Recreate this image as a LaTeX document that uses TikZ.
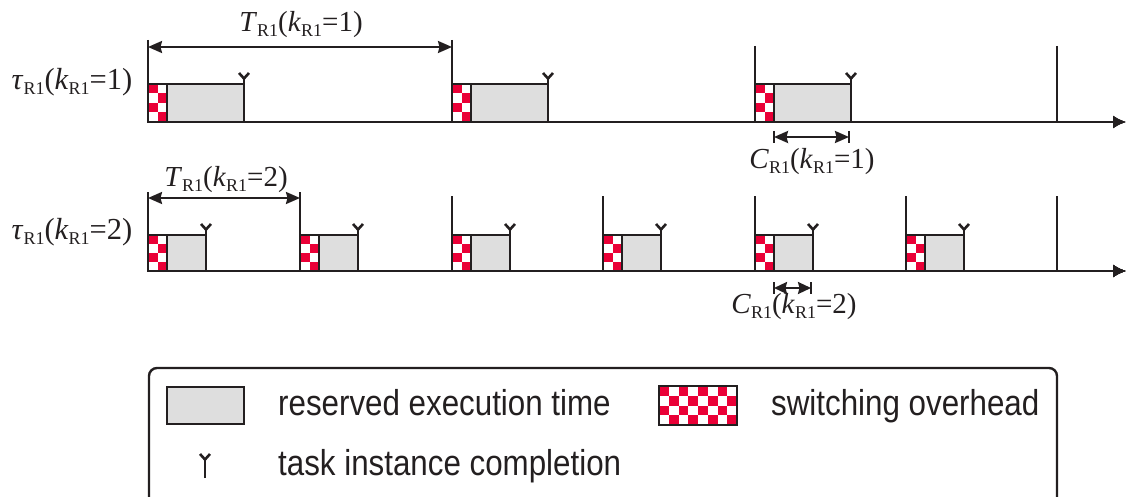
\documentclass[tikz,border=0pt]{standalone}
\usepackage{fontspec}
\setmainfont{Liberation Serif}
\newfontfamily\legendfont[FakeStretch=0.87]{Liberation Sans}
\usetikzlibrary{arrows.meta}

\definecolor{ink}{RGB}{35,31,32}
\definecolor{ovred}{RGB}{234,0,55}
\definecolor{resgray}{RGB}{222,222,222}

% subscript "R1" and label sizes
\newcommand\rsub{\raisebox{-5pt}{\fontsize{18}{18}\selectfont R1}}
\newcommand\lblsize{\fontsize{29}{30}\selectfont}
\newcommand\rowsize{\fontsize{30.5}{31}\selectfont}

% checkerboard: x, ytop, width, height, columns, rows
\newcommand\checker[6]{%
  \fill[white] (#1,#2) rectangle ({#1+#3},{#2+#4});
  \foreach \r in {1,...,#6}{
    \foreach \c in {1,...,#5}{
      \pgfmathtruncatemacro\odd{mod(\r+\c,2)}
      \ifnum\odd=0
        \fill[ovred] ({#1+(\c-1)*#3/#5},{#2+(\r-1)*#4/#6}) rectangle ({#1+\c*#3/#5},{#2+\r*#4/#6});
      \fi
    }
  }
  \draw[boxline] (#1,#2) rectangle ({#1+#3},{#2+#4});
}

% one task instance: release x, axis y, box height, total width
\newcommand\taskinst[4]{%
  \draw[boxline, fill=resgray] ({#1+19},{#2-#3}) rectangle ({#1+#4},#2);
  \checker{#1}{#2-#3}{19}{#3}{2}{4}
  \pic at ({#1+#4},{#2-#3}) {donemark};
}

\begin{document}
\begin{tikzpicture}[x=1pt, y=-1pt,
  axis/.style={ink, line width=2.4pt, -{Latex[length=13pt,width=13pt]}},
  rel/.style={ink, line width=2pt},
  boxline/.style={ink, line width=2pt},
  dim/.style={ink, line width=2.2pt,
    {Stealth[length=14pt,width=12pt,inset=1.5pt]}-{Stealth[length=14pt,width=12pt,inset=1.5pt]}},
  dimshort/.style={ink, line width=2.2pt,
    {Stealth[length=13pt,width=12pt,inset=1.5pt]}-{Stealth[length=13pt,width=12pt,inset=1.5pt]}},
  lbl/.style={inner sep=0pt, text=ink, font=\lblsize},
  rowlbl/.style={inner sep=0pt, text=ink, font=\rowsize},
  leg/.style={inner sep=0pt, text=ink, anchor=base west,
    font=\legendfont\fontsize{36}{36}\selectfont},
  donemark/.pic={
    \draw[ink, line width=2.2pt] (0,0) -- (0,-6);
    \draw[ink, line width=2.6pt, line join=miter] (-5,-11) .. controls (-2.5,-8) .. (0,-5.5) .. controls (2.5,-8) .. (5,-11);
  },
  legmark/.pic={
    \draw[ink, line width=2.2pt] (0,0) -- (0,-19);
    \draw[ink, line width=2.6pt, line join=miter] (-5,-24) .. controls (-2.5,-21) .. (0,-18.5) .. controls (2.5,-21) .. (5,-24);
  },
]
\clip (0,0) rectangle (1126,497);

% ---------- row 1: k = 1 ----------
\coordinate (r1a) at (148,122);
\coordinate (r1end) at (1126,122);
\foreach \x/\top in {148/40, 452/40, 755/46, 1057/46}
  \draw[rel] (\x,\top) -- (\x,122);
\foreach \x in {148,452,755}
  \taskinst{\x}{122}{38}{96}
\draw[axis] (r1a) -- (r1end);

\coordinate (T1a) at (148,47);
\coordinate (T1b) at (452,47);
\draw[dim] (T1a) -- (T1b);
\node[lbl] (T1) at (301,25) {\textit{T}\rsub(\textit{k}\rsub=1)};
\node[rowlbl] (tau1) at (72,82) {\textit{τ}\rsub(\textit{k}\rsub=1)};

\coordinate (C1a) at (774,137);
\coordinate (C1b) at (849,137);
\draw[rel] (774,131) -- (774,143);
\draw[rel] (849,131) -- (849,143);
\draw[dim] (C1a) -- (C1b);
\node[lbl] (C1) at (812,162) {\textit{C}\rsub(\textit{k}\rsub=1)};

% ---------- row 2: k = 2 ----------
\coordinate (r2a) at (148,271);
\coordinate (r2end) at (1126,271);
\foreach \x/\top in {148/192, 300/192, 452/196, 603/196, 755/196, 906/196, 1057/196}
  \draw[rel] (\x,\top) -- (\x,271);
\foreach \x in {148,300,452,603,755,906}
  \taskinst{\x}{271}{36}{58}
\draw[axis] (r2a) -- (r2end);

\coordinate (T2a) at (148,198);
\coordinate (T2b) at (300,198);
\draw[dim] (T2a) -- (T2b);
\node[lbl] (T2) at (226,180) {\textit{T}\rsub(\textit{k}\rsub=2)};
\node[rowlbl] (tau2) at (72,232) {\textit{τ}\rsub(\textit{k}\rsub=2)};

\coordinate (C2a) at (774,288);
\coordinate (C2b) at (811,288);
\draw[rel] (774,282) -- (774,294);
\draw[rel] (811,282) -- (811,294);
\draw[dimshort] (C2a) -- (C2b);
\node[lbl] (C2) at (794,307) {\textit{C}\rsub(\textit{k}\rsub=2)};

% ---------- legend ----------
\draw[ink, line width=2.4pt, rounded corners=8pt] (149,368) rectangle (1057,530);
\draw[boxline, fill=resgray] (167,387) rectangle (244,424);
\node[leg] (tres) at (278,415) {reserved execution time};
\checker{659}{386}{78}{39}{8}{4}
\node[leg] (tsw) at (771,415) {switching overhead};
\pic at (205,478) {legmark};
\node[leg] (ttask) at (278,475) {task instance completion};
\end{tikzpicture}
\end{document}
